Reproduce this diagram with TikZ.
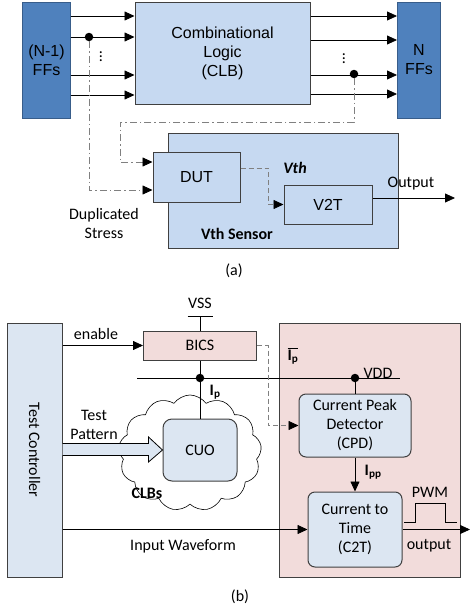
\documentclass[tikz,border=0pt]{standalone}
\usepackage{fontspec}
\setmainfont{Carlito}
\newfontfamily\arialfont{Liberation Sans}
\usetikzlibrary{arrows.meta,shapes.symbols,calc}

\definecolor{ffblue}{HTML}{4F81BD}
\definecolor{ffedge}{HTML}{385D8A}
\definecolor{clbblue}{HTML}{C6D9F1}
\definecolor{paleblue}{HTML}{DCE6F2}
\definecolor{pinkfill}{HTML}{F2DCDB}
\definecolor{edge}{HTML}{404040}
\definecolor{wire}{HTML}{808080}

\AtBeginDocument{\fontsize{16}{19}\selectfont}

\tikzset{every picture/.style={line width=0.8pt}}
\tikzset{
  dot/.style={circle, fill=black, minimum size=#1,
                inner sep=0pt, outer sep=0pt},
  dot/.default={8.5pt}, % tap points on the wires
  ffbox/.style={draw=ffedge, fill=ffblue, line width=1pt, minimum width=43,
                minimum height=116, align=center, font=\arialfont},
  logicbox/.style={draw=edge, fill=clbblue, line width=1pt, align=center,
                font=\arialfont},
  pinkbox/.style={draw=edge, fill=pinkfill, line width=1pt},
  ctrlbox/.style={draw=edge, fill=paleblue, line width=1pt},
  roundbox/.style={draw=edge, fill=paleblue, line width=1pt, rounded corners=7pt,
                align=center},
  stress/.style={wire, dash pattern=on 7pt off 3pt on 1.5pt off 3pt},
  sense/.style={wire, dash pattern=on 5pt off 3pt},
}

\begin{document}
\begin{tikzpicture}[x=1pt, y=-1pt, >={Triangle[length=10pt, width=9pt, color=black]}]
  \useasboundingbox (0,0) rectangle (470,613);

  % (a) flip-flops around the combinational logic
  \node[ffbox] (ffl) at (46.5,60) {(N-1)\\FFs};
  \node[logicbox, minimum width=175, minimum height=102] (clb) at (222.5,53)
    {Combinational\\Logic\\(CLB)};
  \node[ffbox] (ffr) at (419,60) {N\\FFs};
  \foreach \y in {16,37,75,95}
    \draw[->] (ffl.east |- 0,\y) -- (clb.west |- 0,\y);
  \foreach \y in {16,40,75,94}
    \draw[->] (clb.east |- 0,\y) -- (ffr.west |- 0,\y);
  \node[dot] (tapl) at (89,37) {};
  \node[dot] (tapr) at (354,74) {};
  \node[inner sep=0pt] (vdl) at (101,54) {$\vdots$};
  \node[inner sep=0pt] (vdr) at (344,56) {$\vdots$};

  % Vth sensor
  \node[logicbox, minimum width=230, minimum height=115] (sensor) at (283,190.5) {};
  \node[font=\bfseries] (sensorlbl) at (237,234) {Vth Sensor};
  \node[logicbox, minimum width=87, minimum height=50] (dut) at (196.5,177) {DUT};
  \node[logicbox, minimum width=88, minimum height=39] (v2t) at (328,204.5) {V2T};
  \node[font=\bfseries\itshape] (vth) at (295,168) {Vth};
  \draw[stress, ->] (tapl) |- (dut.west |- 0,190);
  \coordinate (bend) at (120,122);
  \draw[stress, ->] (tapr) |- (bend) |- (dut.west |- 0,162);
  \draw[sense, ->] (dut.east |- 0,168) -| ($(v2t.west)+(-15,0)$) -- (v2t.west);
  \coordinate (outa) at (455,198);
  \draw[->] (v2t.east |- outa) -- (outa);
  \node (outlbl) at (411,184) {Output};
  \node[align=center] (dup) at (104,224) {Duplicated\\Stress};
  \node (capa) at (234,271) {(a)};

  % (b) test controller and current monitor
  \node[ctrlbox, minimum width=55, minimum height=254] (tc) at (34.5,450) {};
  \node[rotate=-90] (tclbl) at (tc.center) {Test Controller};
  \node[pinkbox, minimum width=181, minimum height=254] (mon) at (369.5,450) {};
  \node[pinkbox, minimum width=113, minimum height=29] (bics) at (200,345.5) {BICS};
  \node (vss) at (200,303) {VSS};
  \coordinate (vssbar) at (200,316);
  \draw ($(vssbar)+(-12.5,0)$) -- ($(vssbar)+(12.5,0)$);
  \draw (vssbar) -- (bics.north);
  \draw[->] (tc.east |- bics.west) -- (bics.west);
  \node (enlbl) at (96,334) {enable};
  \coordinate (railw) at (137,378);
  \coordinate (raile) at (400,378);
  \draw (railw) -- (raile);

  % circuit under observation
  \node[cloud, draw=black, fill=white, line width=0.6pt, cloud puffs=13,
        cloud puff arc=110, aspect=1.25, minimum width=143, minimum height=116,
        inner sep=0pt] (clbs) at (190,453) {};
  \node[roundbox, rounded corners=9pt, minimum width=74, minimum height=62] (cuo) at (200,450) {CUO};
  \node[dot] (gnd) at (200,378) {};
  \draw (bics.south) -- (cuo.north);
  \node[anchor=west] (iplbl) at (204,392) {\textbf{I\textsubscript{p}}};
  \node (clbslbl) at (147,493) {\textbf{CLBs}};
  \draw[fill=paleblue] (tc.east |- 0,443.5) -- ($(cuo.west)+(-14,-6.5)$)
    -- ($(cuo.west)+(-14,-13)$) -- (cuo.west) -- ($(cuo.west)+(-14,12)$)
    -- ($(cuo.west)+(-14,5.5)$) -- (tc.east |- 0,455.5);
  \node[align=center] (tplbl) at (94,425) {Test\\Pattern};

  % peak detector and current to time
  \node[roundbox, minimum width=112, minimum height=63] (cpd) at (355,425.5)
    {Current Peak\\Detector\\(CPD)};
  \node[dot] (vdd) at (355,378) {};
  \node (vddlbl) at (378,373) {VDD};
  \draw (vdd) -- (cpd.north);
  \node (ipbar) at (293,356) {$\overline{\mbox{\textbf{I\textsubscript{p}}}}$};
  \draw[sense, ->] (bics.east) -- ++(11,0) |- (cpd.west);
  \node[roundbox, minimum width=94, minimum height=75] (c2t) at (355,529.5)
    {Current to\\Time\\(C2T)};
  \draw[->] (cpd.south) -- (c2t.north);
  \node[anchor=west] (ipplbl) at (359,472) {\textbf{I\textsubscript{pp}}};
  \draw[->] (tc.east |- c2t.west) -- (c2t.west);
  \node (inlbl) at (183,546) {Input Waveform};
  \coordinate (outb) at (470,529.5);
  \draw[->] (c2t.east) -- (outb);
  \draw (404,522) -- (415,522) -- (415,503) -- (445,503) -- (445,522) -- (457,522);
  \node (pwmlbl) at (430,492) {PWM};
  \node (outblbl) at (429,546) {output};
  \node (capb) at (240,597) {(b)};
\end{tikzpicture}
\end{document}
